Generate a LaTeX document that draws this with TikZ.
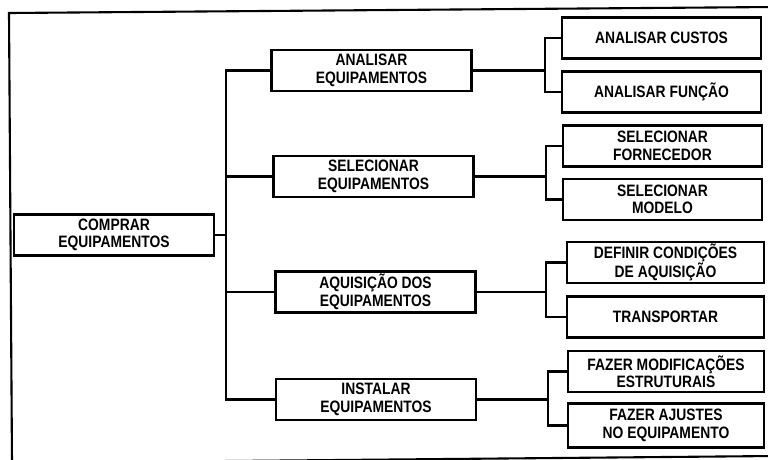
\documentclass[tikz,border=0pt]{standalone}
\usepackage{fontspec}
\setmainfont{Liberation Sans}[FakeStretch=0.84]
\begin{document}
\begin{tikzpicture}[x=1pt,y=-1pt,
  box/.style={draw, line width=2.1pt, minimum width=200pt, minimum height=41pt,
    align=center, inner sep=0pt, font=\bfseries\fontsize{16.5}{17.5}\selectfont},
  leaf/.style={box, minimum width=199pt},
  conn/.style={line width=2.1pt}]
\useasboundingbox (0,0) rectangle (768,459);
% outer frame
\coordinate (frTR) at (774,7);
\coordinate (frTL) at (9,13);
\coordinate (frBL) at (12,463);
\coordinate (frBR) at (774,456);
\draw[conn] (frTR) -- (frTL) -- (frBL);
\draw[conn] (frBL) -- (frBR);
% root
\node[box] (root) at (114,235) {COMPRAR\\EQUIPAMENTOS};
% level 2
\node[box] (a1) at (371.5,70.5) {ANALISAR\\EQUIPAMENTOS};
\node[box] (a2) at (373.5,176.5) {SELECIONAR\\EQUIPAMENTOS};
\node[box] (a3) at (375.5,292) {AQUISIÇÃO DOS\\EQUIPAMENTOS};
\node[box] (a4) at (376,399.5) {INSTALAR\\EQUIPAMENTOS};
% level 3
\node[leaf] (b1) at (661.5,38) {ANALISAR CUSTOS};
\node[leaf] (b2) at (661.5,92) {ANALISAR FUNÇÃO};
\node[leaf] (b3) at (662.5,146) {SELECIONAR\\FORNECEDOR};
\node[leaf] (b4) at (662.5,199.5) {SELECIONAR\\MODELO};
\node[leaf, minimum width=197pt] (b5) at (665.5,262.5) {DEFINIR CONDIÇÕES\\DE AQUISIÇÃO};
\node[leaf, minimum width=197pt] (b6) at (665.5,317) {TRANSPORTAR};
\node[leaf, minimum width=196pt] (b7) at (666,371.5) {FAZER MODIFICAÇÕES\\ESTRUTURAIS};
\node[leaf, minimum width=196pt, minimum height=44pt] (b8) at (666,425.5) {FAZER AJUSTES\\NO EQUIPAMENTO};
% trunk
\coordinate (tk) at (226,235);
\draw[conn] (root.east) -- (tk);
\draw[conn] (a1.west) -| (tk) |- (a4.west);
\draw[conn] (a2.west) -- (a2.west -| tk);
\draw[conn] (a3.west) -- (a3.west -| tk);
% sub brackets
\coordinate (bx1) at (545,0);
\coordinate (bx2) at (546,0);
\coordinate (bx3) at (546,0);
\coordinate (bx4) at (548,0);
\draw[conn] (a1.east) -- (a1.east -| bx1);
\draw[conn] (b1.west) -| (a1.east -| bx1) |- (b2.west);
\draw[conn] (a2.east) -- (a2.east -| bx2);
\draw[conn] (b3.west) -| (a2.east -| bx2) |- (b4.west);
\draw[conn] (a3.east) -- (a3.east -| bx3);
\draw[conn] (b5.west) -| (a3.east -| bx3) |- (b6.west);
\draw[conn] (a4.east) -- (a4.east -| bx4);
\draw[conn] (b7.west) -| (a4.east -| bx4) |- (b8.west);
\end{tikzpicture}
\end{document}
